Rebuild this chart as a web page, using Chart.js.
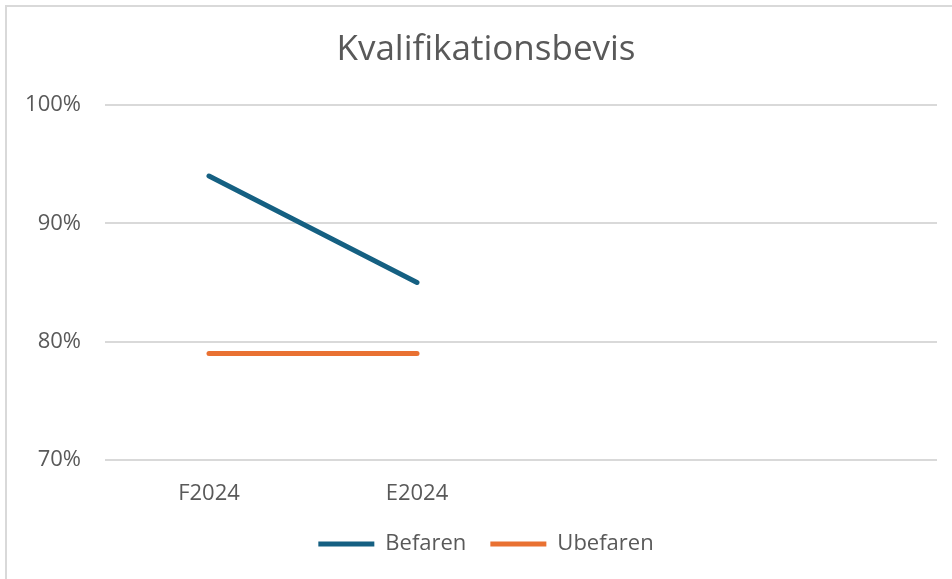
<!DOCTYPE html>
<html>
<head>
<meta charset="utf-8">
<script src="https://cdn.jsdelivr.net/npm/chart.js@4.4.1/dist/chart.umd.min.js"></script>
<style>
  html, body { margin: 0; padding: 0; background: #fff; overflow: hidden; }
  #frame {
    position: absolute; left: 5px; top: 5px;
    width: 980px; height: 600px;
    border: 2px solid #d9d9d9;
  }
  /* the original chart box is a bit wider than the window, so it is cropped on the right */
  #wrap { position: absolute; left: 0; top: 0; width: 972px; height: 579px; }
</style>
</head>
<body>
<div id="frame"></div>
<div id="wrap"><canvas id="mainChart"></canvas></div>
<script>
// chart data
const categories = ["F2024", "E2024", "", ""];
const befaren = [94, 85, null, null];
const ubefaren = [79, 79, null, null];
const yTicks = [70, 80, 90, 100];

const textColor = "#595959";
const fontFamily = "'Open Sans', 'Noto Sans', sans-serif";

const ctx = document.getElementById("mainChart").getContext("2d");

new Chart(ctx, {
  type: "line",
  data: {
    labels: categories,
    datasets: [
      {
        label: "Befaren",
        data: befaren,
        borderColor: "#156082",
        backgroundColor: "#156082",
        borderWidth: 5,
        borderCapStyle: "round",
        pointRadius: 0,
        fill: false
      },
      {
        label: "Ubefaren",
        data: ubefaren,
        borderColor: "#E97132",
        backgroundColor: "#E97132",
        borderWidth: 5,
        borderCapStyle: "round",
        pointRadius: 0,
        fill: false
      }
    ]
  },
  options: {
    responsive: true,
    maintainAspectRatio: false,
    animation: false,
    layout: { padding: { left: 0, right: 0, top: 0, bottom: 14 } },
    plugins: {
      title: {
        display: true,
        text: "Kvalifikationsbevis",
        color: textColor,
        font: { size: 35, family: fontFamily, weight: "normal" },
        padding: { top: 29, bottom: 34 }
      },
      legend: {
        position: "bottom",
        labels: {
          usePointStyle: true,
          pointStyle: "line",
          pointStyleWidth: 56,
          color: textColor,
          font: { size: 22, family: fontFamily },
          padding: 24
        }
      },
      tooltip: { enabled: false }
    },
    scales: {
      x: {
        offset: true,
        grid: { display: false, offset: true },
        border: { display: false },
        ticks: {
          color: textColor,
          font: { size: 22, family: fontFamily },
          padding: 13,
          maxRotation: 0
        },
        afterFit(scale) { scale.height = 49; }
      },
      y: {
        min: 70,
        max: 100,
        afterBuildTicks(scale) { scale.ticks = yTicks.map(v => ({ value: v })); },
        grid: { color: "#d9d9d9", lineWidth: 2, drawTicks: false },
        border: { display: false },
        ticks: {
          color: textColor,
          font: { size: 22, family: fontFamily },
          padding: 24,
          callback: v => v + "%"
        },
        afterFit(scale) { scale.width = 105; }
      },
      // empty right-hand spacer so the plot stops short of the box edge
      spacer: {
        type: "linear",
        position: "right",
        grid: { display: false },
        border: { display: false },
        ticks: { display: false },
        afterFit(scale) { scale.width = 35; }
      }
    }
  }
});
</script>
</body>
</html>
